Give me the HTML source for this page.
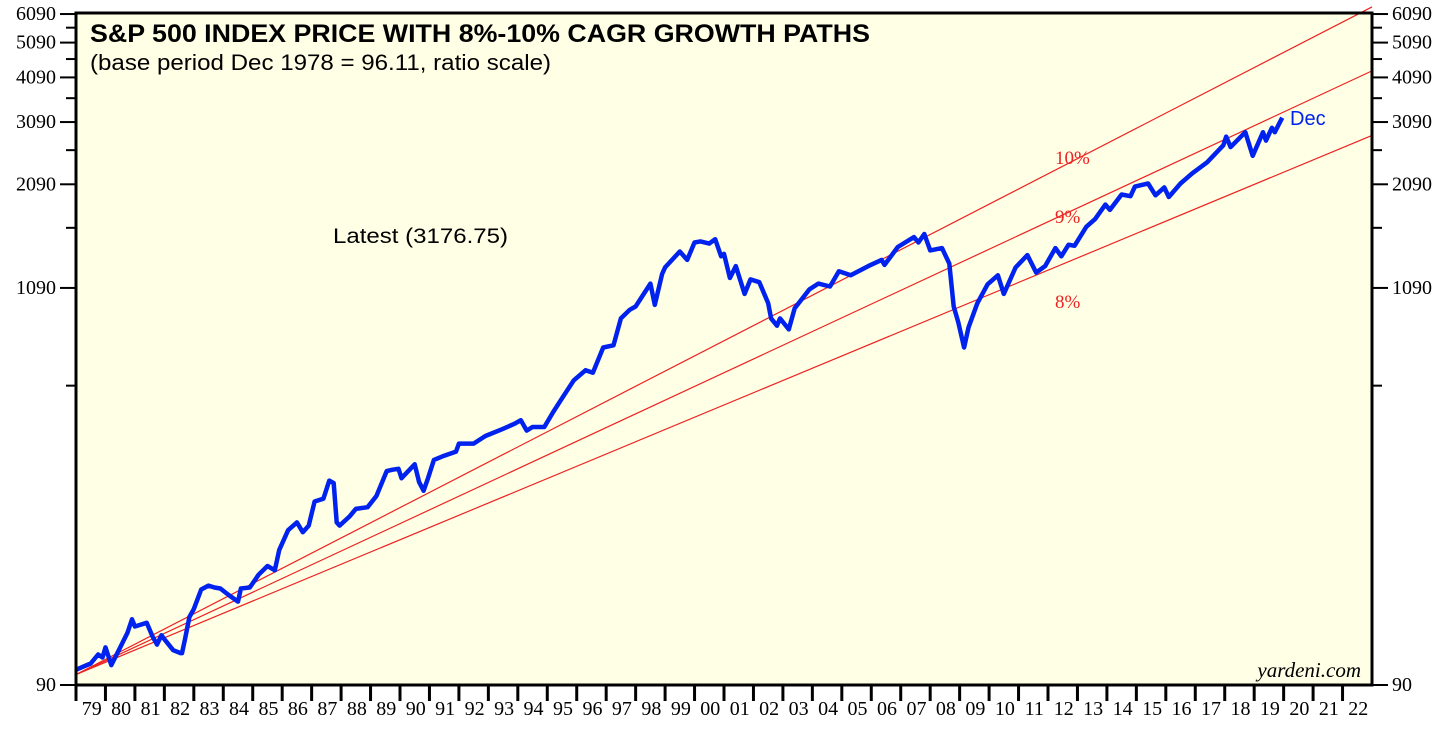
<!DOCTYPE html>
<html><head><meta charset="utf-8"><style>
body{margin:0;background:#fff;width:1456px;height:738px;overflow:hidden}
svg{display:block}
</style></head><body>
<svg id="chart" width="1456" height="738" xmlns="http://www.w3.org/2000/svg">
<rect x="76" y="13" width="1296" height="672" fill="#FFFFE6"/>
<g id="grow"></g>
<g id="ser"></g>
<rect x="76" y="13" width="1296" height="672" fill="none" stroke="#000" stroke-width="3"/>
<g id="axes"></g>
<text x="90" y="42" font-family="Liberation Sans, sans-serif" font-weight="bold" font-size="25" textLength="780" lengthAdjust="spacingAndGlyphs">S&amp;P 500 INDEX PRICE WITH 8%-10% CAGR GROWTH PATHS</text>
<text x="90" y="70" font-family="Liberation Sans, sans-serif" font-size="22" textLength="461" lengthAdjust="spacingAndGlyphs">(base period Dec 1978 = 96.11, ratio scale)</text>
<text x="333" y="243" font-family="Liberation Sans, sans-serif" font-size="21" textLength="175" lengthAdjust="spacingAndGlyphs">Latest (3176.75)</text>
<text x="1290" y="125" font-family="Liberation Sans, sans-serif" font-size="20" fill="#0022EE">Dec</text>
<text x="1055" y="164" font-family="Liberation Serif, serif" font-size="19" fill="#EE2222">10%</text>
<text x="1055" y="223" font-family="Liberation Serif, serif" font-size="19" fill="#EE2222">9%</text>
<text x="1055" y="308" font-family="Liberation Serif, serif" font-size="19" fill="#EE2222">8%</text>
<text x="1361" y="677" text-anchor="end" font-family="Liberation Serif, serif" font-style="italic" font-size="21">yardeni.com</text>
</svg>
<script>
const yTicks=[90,1090,2090,3090,4090,5090,6090];
const yMinor=[590,1590,2590,3590,4590,5590];
const years=["79","80","81","82","83","84","85","86","87","88","89","90","91","92","93","94","95","96","97","98","99","00","01","02","03","04","05","06","07","08","09","10","11","12","13","14","15","16","17","18","19","20","21","22"];
const rates=[0.08,0.09,0.10];
const baseValue=96.11;
const dates=[1979.0,1979.25,1979.5,1979.75,1979.9,1980.0,1980.2,1980.5,1980.75,1980.9,1981.0,1981.4,1981.6,1981.75,1981.9,1982.0,1982.3,1982.55,1982.6,1982.7,1982.85,1983.0,1983.25,1983.5,1983.7,1983.9,1984.2,1984.5,1984.6,1984.9,1985.2,1985.5,1985.75,1985.9,1986.2,1986.5,1986.7,1986.9,1987.1,1987.4,1987.6,1987.75,1987.85,1987.95,1988.3,1988.5,1988.9,1989.2,1989.55,1989.75,1989.95,1990.05,1990.5,1990.65,1990.8,1990.95,1991.15,1991.5,1991.9,1992.0,1992.5,1992.9,1993.5,1993.9,1994.1,1994.3,1994.5,1994.9,1995.2,1995.5,1995.9,1996.3,1996.55,1996.9,1997.25,1997.5,1997.8,1998.0,1998.5,1998.65,1998.9,1999.0,1999.5,1999.75,2000.0,2000.2,2000.5,2000.7,2000.9,2001.0,2001.2,2001.4,2001.7,2001.9,2002.2,2002.5,2002.6,2002.8,2002.9,2003.2,2003.4,2003.9,2004.2,2004.6,2004.9,2005.3,2005.9,2006.35,2006.45,2006.9,2007.45,2007.6,2007.8,2008.0,2008.4,2008.65,2008.8,2008.95,2009.15,2009.3,2009.6,2009.95,2010.3,2010.5,2010.9,2011.3,2011.6,2011.9,2012.25,2012.45,2012.7,2012.9,2013.3,2013.6,2013.95,2014.1,2014.5,2014.8,2014.95,2015.4,2015.65,2015.95,2016.1,2016.5,2016.9,2017.4,2017.95,2018.05,2018.2,2018.7,2018.95,2019.3,2019.4,2019.6,2019.7,2019.95];
const prices=[99,101,103,109,107,114,102,114,125,136,130,133,122,116,123,120,112,110,110,120,138,145,164,168,166,165,158,152,165,166,180,190,185,210,238,250,235,245,285,290,325,320,250,245,260,272,275,295,345,348,350,330,360,322,305,330,370,380,390,410,410,430,450,465,475,445,455,455,500,545,610,650,640,750,760,900,950,970,1120,980,1190,1240,1370,1300,1450,1460,1440,1480,1330,1350,1160,1250,1050,1150,1130,990,900,860,900,840,960,1080,1120,1100,1210,1180,1250,1300,1260,1410,1500,1450,1530,1380,1400,1270,970,880,750,850,990,1115,1180,1050,1240,1340,1200,1250,1400,1330,1430,1420,1600,1680,1840,1780,1960,1940,2060,2100,1950,2050,1930,2100,2240,2400,2670,2820,2640,2900,2500,2900,2750,2980,2900,3176];
const X0=76,X1=1372,T0=1979,T1=2023,Y0=685,K=159.2;
const xs=t=>X0+(t-T0)/(T1-T0)*(X1-X0);
const ys=v=>Y0-Math.log(v/90)*K;
const NS="http://www.w3.org/2000/svg";
function mk(tag,attrs,parent){const e=document.createElementNS(NS,tag);for(const k in attrs)e.setAttribute(k,attrs[k]);parent.appendChild(e);return e;}
const axes=document.getElementById('axes');
yTicks.forEach(v=>{const y=ys(v);
 let l=mk('line',{x1:60,x2:76,y1:y,y2:y,stroke:'#000','stroke-width':2},axes);
 
 
 l=mk('line',{x1:1372,x2:1388,y1:y,y2:y,stroke:'#000','stroke-width':2},axes);
 
 
 let t=mk('text',{x:56,y:y+6,'text-anchor':'end','font-family':'Liberation Serif, serif','font-size':20},axes);t.textContent=v;
 
 
 t=mk('text',{x:1392,y:y+6,'font-family':'Liberation Serif, serif','font-size':20},axes);t.textContent=v;
 
 
});
yMinor.forEach(v=>{const y=ys(v);
 let l=mk('line',{x1:66,x2:76,y1:y,y2:y,stroke:'#000','stroke-width':2},axes);
 
 
 l=mk('line',{x1:1372,x2:1382,y1:y,y2:y,stroke:'#000','stroke-width':2},axes);
 
 
});
years.forEach((s,i)=>{const x=xs(T0+i);
 let l=mk('line',{x1:x,x2:x,y1:685,y2:701,stroke:'#000','stroke-width':3},axes);
 
 
 let t=mk('text',{x:xs(T0+i+0.5)+1,y:715,'text-anchor':'middle','font-family':'Liberation Serif, serif','font-size':20},axes);t.textContent=s;
 
 
});
const grow=document.getElementById('grow');
rates.forEach(r=>{const t2=T1;const v2=baseValue*Math.pow(1+r,t2-T0);
 const l=mk('line',{x1:xs(T0),y1:ys(baseValue),x2:xs(t2),y2:ys(v2),stroke:'#EE2222','stroke-width':1.2},grow);
 
 
});
const d=dates.map((t,i)=>(i?'L':'M')+xs(t).toFixed(1)+','+ys(prices[i]).toFixed(1)).join('');
const p=mk('path',{d:d,fill:'none',stroke:'#0022EE','stroke-width':4.5,'stroke-linejoin':'round'},document.getElementById('ser'));


</script>
</body></html>
